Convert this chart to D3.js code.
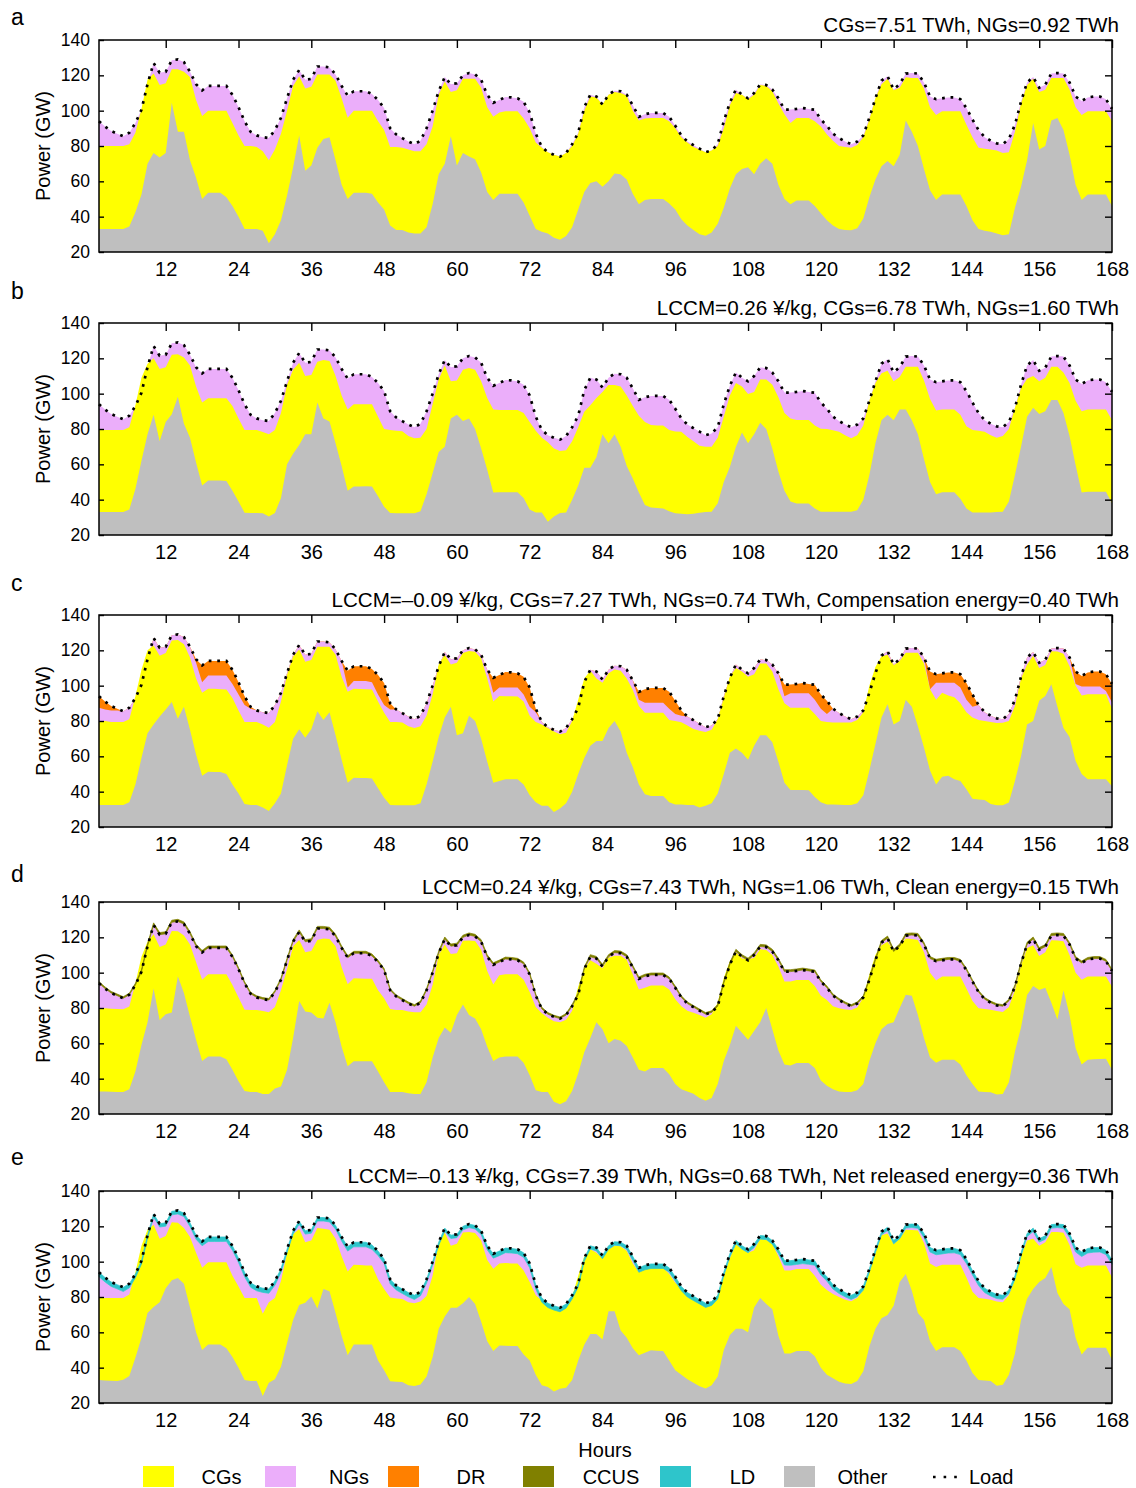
<!DOCTYPE html>
<html>
<head>
<meta charset="utf-8">
<script src="https://cdn.jsdelivr.net/npm/d3@7"></script>
<style>
body { margin: 0; background: #fff; }
svg text { font-family: "Liberation Sans", Arial, sans-serif; fill: #000; }
</style>
</head>
<body>
<div id="chart"></div>
<script>
// weekly dispatch, 5 scenarios

const WIDTH = 1136;
const HEIGHT = 1488;
const PANEL_H = 212;

const hours = d3.range(1, 169);
const xTicks = [12, 24, 36, 48, 60, 72, 84, 96, 108, 120, 132, 144, 156, 168];
const yTicks = [20, 40, 60, 80, 100, 120, 140];

// load (GW), same in every panel
const load = [
  94,91,88.5,87,85.5,87.5,93,100.5,115,127,121.5,122,128.5,129,127.5,122,115,111.5,114,114,114,114,109,102,
  94,88,86,85,84.5,89,96,107,117.5,123,117.5,118,125,125,124.5,120.5,114,108.5,111,111,111,109.5,106,101.5,
  90,86.5,84.5,82.5,81,83,90,100,111,119,115,115.5,120,121.3,120.5,117.5,109,104.5,106,107.7,107.5,107,105,99,
  87,79.5,76.5,75,74,76,81,87.5,102,109,108,103.5,109,111.3,111,109,103,96.5,98,98.7,98.7,98.7,96.5,91.5,
  86,82.5,80.5,78.5,76.5,77.5,81,94,104.5,112,109,107,110,114.8,114.5,112,107,100.6,100.6,101,101.5,101,100.5,95,
  91.5,87,84.5,82.5,81,82.5,86,96,107,117,119.5,112,115,121,121.3,121,116,108,106.5,107,107.5,107.5,106.5,101.5,
  95,89,85,83,81.5,81,84,92,105,116,119,113,114.7,121,121.3,121,116,108,105.5,107.5,108,108,106.5,101
];

// stacked levels (GW): "other" top, then top of CGs on top of it
const otherA = [
  33,33,33,33,33,34.5,42.5,52.5,70,76,73.5,76,104.5,88,88,72,62,50,53.5,53.5,53.5,51,46,40,
  33,33,33,32,25,30,38,52,68,86,66,69,79,84,85,72,58,50,53.5,53.5,53.5,53,48,44,
  35,32.5,32.5,31,30.5,30.5,34,47,64,70,85.5,69,76,74,72.5,65,54,49.5,53,53,53,53,48,40.5,
  33,31.5,30.5,28,27,29,34,44,54,59,60,57,60,64.5,64,61,53,47,49.5,50,50,50,47.5,44,
  38.5,35,32.5,30,29.2,31,36,45,56,64,67,68,64,70,73,70,58,50,47,49.2,49.2,49.2,46,42,
  38,35,33,32.5,32.3,33.5,39,51,61,68.5,71.5,68.5,75,94.5,88,80,67,55,49.5,52.5,52.5,52.5,52.5,46,
  38,33,32,31.5,30.5,29.5,30,45,57,72,93,78,80,94.5,95.8,89,75,58,49.5,52.5,52.5,52.5,52.5,46
];
const cgsTopA = [
  80,80,80,80,80,81,87.5,101,117.5,121,114.5,115.5,123.5,123.5,122,119,106,97,100,100,100,100,93,86,
  80,80,79.5,77,72,78,87,100,114,119.5,112.5,113.5,120.5,120.5,120.5,117,107,96,100,100,100,100,94,89,
  79.5,79.5,79,78,77,77,81,91,109,116.5,110.5,111.5,118,118,118,113,102,96.5,99,99.6,99.6,99.6,95.5,90,
  82,79,76.5,75,74,76,80,87,100,108,107.5,103.5,109,110.5,110,108.5,100,94.5,95.5,95.8,95.8,95.8,94,90,
  85,82,79.5,78,76.5,77.5,80,90,103,110,109,106.5,109,114.5,114,111,104,98,93,95.8,95.8,95.8,94,91,
  86.5,83,80,79.5,79,80.5,85,95,107,115,118,111.5,113,118.9,118.5,118.5,112.5,102,97.5,99.6,99.6,99.6,99.6,92,
  85,79,78.5,78,77.5,76,76.5,88,104,114.5,118,110.5,111.9,118.5,118.5,118.5,112,102,97.5,99.6,99.6,99.6,99.6,94
];

const otherB = [
  33,33,33,33,33,34.5,46,62,77,88,73,84,88.3,98.3,83,75,61,48,50.8,50.8,50.8,50.5,45,39,
  32.6,32.5,32.5,32.3,30.5,32.5,41,60,66,71,77,77,95,86,84.2,72,59,45,47.4,47.5,47.6,47.5,42,36,
  32.5,32.3,32.3,32.3,32.3,33.5,43,55,67,70,86,88,84.5,86,80,69,57,44,44.2,44.2,44.2,44.2,41,34.5,
  32.8,32.8,27.5,30.5,32.5,32.8,40,48,58,58,64,77,72,77,70,59,52,44,37,35.5,35.3,35,33.5,32.3,
  32,31.7,32,32.6,33,33.2,38,50,58.5,70,78,72,77,83.5,80,69,56,45,39,37.9,37.9,37.9,35,33.2,
  33.2,33.2,33.2,33.2,33.2,34,40,54,72,85,88,85,91,91,85,77,63,50,43,44.2,44.2,44.2,40.5,35,
  32.8,32.8,32.8,32.8,33,33.2,39,54,70,87,92,88.5,90,96.4,96.4,89,76,59.6,44,44.5,44.5,44.5,44.5,38
];
const cgsTopB = [
  79.5,79.5,79.5,79.5,79.5,81,93.5,109,117,120,114,115,122,122.3,120.5,116,104,95,97.4,97.4,97.4,97.4,93,86,
  79.4,79.4,79.4,78.3,77,79.5,89,105,113.5,117.5,110,110.5,118,119,118.5,110,99,91,94,94,94,94,87,80,
  79.4,79,78.7,76,74.7,75,80,94,108,116,107,107.5,113.5,114.5,113.5,107,97.5,91,90.8,90.8,90.8,90.8,89,84,
  79,75,72.5,69,67.5,68,73,81,89.8,93.5,97.5,101,104.9,104.9,104,99,93,87.5,84,82.2,82,82,79.5,78.6,
  78.5,75.5,73,70.5,70,70,75,87,99,106,104,99.8,101,108,108,105,98,89,86,85.1,85.1,85.1,82,80.2,
  80,79.3,78.5,76.5,74.7,76.5,82,96,106,111.5,113,107,109.5,115.3,115.3,115.3,107.5,97,90.5,91.1,91.1,91.1,88,81.5,
  79.4,79,78.5,76.5,75,76,80,92,103,108.5,110,107,109,115.3,115.3,112,106,96,90,91.1,91.1,91.1,91.1,85
];

const otherC = [
  32.5,32.5,32.5,32.5,32.5,34,44,59,73,78,82.5,86.5,90.8,81.3,88,75,61,49,51.3,51.2,51.1,50,44,39,
  33,32.5,32.5,31,29.1,33.5,39,55,70,75.3,70.5,75.3,85.5,80.5,85,72,58,45,47.9,47.8,47.7,47.5,42,36.5,
  32.5,32.3,32.3,32.3,32.3,33.5,44,57,71,82,88,72,73,83,80,70,57,45,46,47,47,47,44,38,
  34,32,32,28.5,30.5,33.5,40,50,59,66,68.7,68.7,76,80,74,62,54,44,38.5,37.5,37.5,37.5,34,32.8,
  32.8,32.5,32.4,31,32,33.5,39,50,62,64.5,62,58,66,72,72,68,57,45,40.9,40.9,40.9,40.8,37,34,
  32.8,32.7,32.6,32.5,32.5,33.5,38,52,67,82,89.5,78,80,92,88,77,65,52,44,48.5,49,47,46,41.3,
  36,35.6,35.3,33,32.3,32.3,33.8,46,60,78,80,91.5,94.2,100.8,88,76,71,57.4,50,47,47,47,47,43
];
const cgsTopC = [
  80,80,79.5,79.5,79.4,81,94,109,120,122.8,117,118.5,125.5,125.8,123.5,116,104,96,98.3,98.2,98,97.9,93,86,
  79.4,79.4,79.4,78,76.2,79.5,91,106,116.5,120.5,113.5,114.5,122,122,122,117.5,105,96.5,98.3,98.1,98,97.9,91,84.7,
  79.5,79.4,79.1,77,76,77,83,95,112,117.5,112,113,118.5,119.6,119.2,115.5,104,91,94.2,94,94,93.8,91,83,
  79.5,78,76,74,72.5,73.4,80,92,104,108.5,104,101.7,107,109.2,108.5,104,97.5,88.5,84.7,84.7,84.7,84.7,80.5,80,
  79.3,77.5,75.5,74.5,73.8,75,81,93,105,110,108,105,106.5,112.5,112.6,108,98,90,87.5,87.5,87.5,87.5,84,80,
  79.4,79.2,79.1,79.1,79.1,80.5,85,100,110.5,116.5,117.5,111.5,114,118.7,118.7,118.7,112.5,98,92,96,94.5,93.5,90,85,
  82,80.5,80,79.5,78.8,79,80,88.5,104,112,117,110,111.7,119.5,119.3,118,111,100,94.5,95.1,95.1,95.1,95.1,87
];
// top of NGs in panel c; DR fills the gap up to the load
const ngsTopC = [
  87.5,86.5,86,86,85.5,87.5,93,100.5,115,127,121.5,122,128.5,129,127.5,122,113,102,105.8,105.8,105.8,105.8,101,95,
  89,87,86,85,84.5,89,96,107,117.5,123,117.5,118,125,125,124.5,120.5,114,99,102.6,102.6,102.6,102,95,89,
  86.5,86.5,84.5,82.5,81,83,90,100,111,119,115,115.5,120,121.3,120.5,117.5,109,96,98.9,98.9,98.9,98.9,95,88,
  85,79.5,76.5,75,74,76,81,87.5,102,109,108,103.5,109,111.3,111,109,103,92,90.4,90.4,90.4,90.4,87,84,
  83,82.5,80.5,78.5,76.5,77.5,81,94,104.5,112,109,107,110,114.8,114.5,112,107,94,95.7,95.7,95.7,95.7,92,87,
  84,87,84.5,82.5,81,82.5,86,96,107,117,119.5,112,115,121,121.3,121,116,98,101.7,101.7,101.7,101.7,99,92,
  88,89,85,83,81.5,81,84,92,105,116,119,113,114.7,121,121.3,121,116,101,99.5,99.5,99.5,99.5,97,90.5
];

const otherD = [
  32.8,32.7,32.6,32.5,32.4,34,44,59,72,91,73,76.5,77.5,98,88.5,75,62,50,52.6,52.6,52.6,51,45,38.5,
  33,32.4,32.4,31.3,31.3,34.5,35.6,45,63,84,78,77.5,74.5,74,83,72,58,47,49.8,49.8,49.8,49.8,44,38,
  32.5,32.4,32.4,31.8,31.3,31.3,38,52,63,69,66,76,82,76,74,68,58,50,52,52.6,52.6,52.6,49,42,
  33.5,32.5,32.4,27,25.5,27.2,33,43,55,63,72,68,60,62.5,61.5,58.5,52,45,44,46,46,46,42.5,37,
  34,32.8,31.5,29,27.5,29,37,50,59,70,66,62,67,72,80,68,56,48,47.5,48.8,48.8,48.8,46,39,
  36,34,32.7,32.5,32.4,33.5,37,50,60,68,71,72,80,87.5,87,76,63,52,49,50.7,50.7,50.7,48,42,
  37,32.8,32.5,32.3,31,31.3,38,55.4,69,87.4,92.5,90.2,91.5,83,73.5,90,76,57.3,48,50.7,51,51.2,51.3,45
];
const cgsTopD = [
  79.9,79.8,79.6,79.4,79.3,80.8,94,109,117.5,121.7,114.5,116,123.6,123.4,121,116,106,96,99.1,99.1,99.1,99.1,93,86,
  79,78.9,78.9,78.3,77.6,80.5,90,102,115,118.5,111.5,112.3,118.5,119.3,119.1,115,103,93.5,96.8,96.7,96.6,96.5,90,85.5,
  79.5,78.9,78.9,78,77.6,77.6,82,93,110,116,110.5,111,118,118.2,117.9,113,101,93.3,98.5,99.1,99.1,99.1,96,89,
  80.5,77,74.5,72.5,72,73.3,78.5,92,102,107,105,102.5,108.5,109.6,109.6,107.2,99,90.5,91.5,92.7,92.7,92.7,90.5,85,
  81,78.5,77.3,76,74.5,76.5,83,97,106.5,111.5,108,107.5,108.5,113.2,112.8,110,103.5,95,95,95.9,95.9,95.9,92.5,87,
  84.5,81,79.8,79.2,78.9,80.3,86,99,110,115.5,117.5,112.5,115.5,119.4,119,118.5,111.5,100,95.5,97.8,97.8,97.8,97.8,91,
  84,79.9,79.5,79,78.3,77.8,80.5,90,104,114,115.5,109.5,111.5,118.3,118.2,117.8,110,100,96,97.8,97.8,97.8,97.8,92
];
// CCUS consumption (GW), stacked above the load
const ccusD = [
  0.9,0.9,0.9,0.9,0.9,0.9,1,1.1,1.2,1.2,1.2,1.2,1.2,1.2,1.2,1.2,1.1,1.1,1.1,1.1,1.1,1.1,1,0.9,
  0.9,0.9,0.9,0.9,0.9,0.9,1,1.1,1.2,1.2,1.2,1.2,1.2,1.2,1.2,1.2,1.1,1.1,1.1,1.1,1.1,1.1,1,0.9,
  0.9,0.9,0.9,0.9,0.9,0.9,1,1.1,1.2,1.2,1.2,1.2,1.2,1.2,1.2,1.2,1.1,1.1,1.1,1.1,1.1,1.1,1,0.9,
  0.9,0.9,0.9,0.9,0.9,0.9,1,1.1,1.2,1.2,1.2,1.2,1.2,1.2,1.2,1.2,1.1,1.1,1.1,1.1,1.1,1.1,1,0.9,
  0.9,0.9,0.9,0.9,0.9,0.9,1,1.1,1.2,1.2,1.2,1.2,1.2,1.2,1.2,1.2,1.1,1.1,1.1,1.1,1.1,1.1,1,0.9,
  0.9,0.9,0.9,0.9,0.9,0.9,1,1.1,1.2,1.2,1.2,1.2,1.2,1.2,1.2,1.2,1.1,1.1,1.1,1.1,1.1,1.1,1,0.9,
  0.9,0.9,0.9,0.9,0.9,0.9,1,1.1,1.2,1.2,1.2,1.2,1.2,1.2,1.2,1.2,1.1,1.1,1.1,1.1,1.1,1.1,1,0.9
];

const otherE = [
  33,32.8,32.6,32.4,33.2,35.3,45.6,57,71,74.4,77,85,89.5,90.8,87.5,74,60,50,53.1,53.1,53.1,51,46,40,
  33,32.4,32.4,24,31.5,33.5,40.5,54,67,75.5,76.7,80.3,73.5,84.5,83.3,71,58,47,53.1,53.1,53.1,53.1,44,38.5,
  32.3,32,31.9,30,29.6,30.5,35,46,62,69,73.9,73.9,76.5,80,76,66,55,49.5,52.5,52.4,52.3,52.2,47.5,44,
  36,30,29,26.5,28,28.7,33,44,53,59,59,56,72,72,61,57,51,47,48.5,49.9,49.6,49.4,44,38.5,
  36,33.5,31.5,29.5,28.2,30,35,50,58.5,62,62,60,74,79.5,76,73,58,48,48,49.4,49.4,49.4,46.5,40,
  36,34,32,31,30.8,32.5,38,52,62,68,69.8,75,88.5,93,83.5,71,67,55,49.5,51.6,51.6,51.6,49.5,44,
  37,33,32.7,32.4,29.8,30.4,36,48,67,79,84.5,88.5,90.8,97,82.3,76,73,57,47.5,51.3,51.3,51.3,51.3,44.5
];
const cgsTopE = [
  79.5,79.5,79.5,79.5,79.5,81.4,94,109,118,120.9,113,114.5,122.3,122,119,114,105,96.5,99.7,99.7,99.7,99.7,92,86,
  79.5,79.5,79.5,70.5,77,79.5,89,105,115.5,118.5,111,112,119,118.6,118.1,113,103,94.5,98.3,98.1,97.9,97.8,90,84.5,
  79.7,79.2,78.9,77,76.5,77.5,80.5,92,111,116.5,109,110.2,116.5,116.8,116.2,112,101,96,99,99.2,99,98.9,95,88.5,
  81,78,75,73.5,73,74.8,80,92,103,107,105,102,107,109,108.7,106,99,94,96,97,96.8,96.5,93,88,
  85,80,78.5,76.5,74.5,76.5,81,92,102,110,107,105,106.5,112.8,112.4,110,103,95,95,95.9,95.9,95.9,92,87,
  84,81.7,80,78.5,77.6,79.5,84,94,105,115,116,110,113,118.1,117.9,117.7,110.5,99,97,98.3,98.3,98.3,98.3,91,
  83,79.5,79,78.5,77.5,77,81,90,103,112,113,109,111,116.8,116.8,116.4,109.5,98.5,96.5,97.8,97.8,97.8,97.8,91
];
// LD discharge (GW), the band just under the load
const ldE = [
  2.5,2.5,2.5,2.4,2.4,2.3,2.1,1.9,1.8,1.8,1.9,1.9,2,2,2,2.1,2.3,2.5,2.6,2.6,2.6,2.5,2.5,2.5,
  2.5,2.5,2.5,2.4,2.4,2.3,2.1,1.9,1.8,1.8,1.9,1.9,2,2,2,2.1,2.3,2.5,2.6,2.6,2.6,2.5,2.5,2.5,
  2.5,2.5,2.5,2.4,2.4,2.3,2.1,1.9,1.8,1.8,1.9,1.9,2,2,2,2.1,2.3,2.5,2.6,2.6,2.6,2.5,2.5,2.5,
  2.5,2.5,2.5,2.4,2.4,2.3,2.1,1.9,1.8,1.8,1.9,1.9,2,2,2,2.1,2.3,2.5,2.6,2.6,2.6,2.5,2.5,2.5,
  2.5,2.5,2.5,2.4,2.4,2.3,2.1,1.9,1.8,1.8,1.9,1.9,2,2,2,2.1,2.3,2.5,2.6,2.6,2.6,2.5,2.5,2.5,
  2.5,2.5,2.5,2.4,2.4,2.3,2.1,1.9,1.8,1.8,1.9,1.9,2,2,2,2.1,2.3,2.5,2.6,2.6,2.6,2.5,2.5,2.5,
  2.5,2.5,2.5,2.4,2.4,2.3,2.1,1.9,1.8,1.8,1.9,1.9,2,2,2,2.1,2.3,2.5,2.6,2.6,2.6,2.5,2.5,2.5
];

const COLORS = {
  cgs: "#ffff00", ngs: "#ebaefa", dr: "#ff8000",
  ccus: "#808000", ld: "#2ec5cb", other: "#bfbfbf"
};

// stacking helpers for the thin bands
const ccusTopD = load.map((v, i) => v + ccusD[i]);
const ngsTopE = load.map((v, i) => v - ldE[i]);

const panels = [
  { letter: "a", top: 40, letterY: 25,
    note: "CGs=7.51 TWh, NGs=0.92 TWh",
    layers: [[load, COLORS.ngs], [cgsTopA, COLORS.cgs], [otherA, COLORS.other]] },
  { letter: "b", top: 323, letterY: 299,
    note: "LCCM=0.26 ¥/kg, CGs=6.78 TWh, NGs=1.60 TWh",
    layers: [[load, COLORS.ngs], [cgsTopB, COLORS.cgs], [otherB, COLORS.other]] },
  { letter: "c", top: 615, letterY: 591,
    note: "LCCM=–0.09 ¥/kg, CGs=7.27 TWh, NGs=0.74 TWh, Compensation energy=0.40 TWh",
    layers: [[load, COLORS.dr], [ngsTopC, COLORS.ngs], [cgsTopC, COLORS.cgs], [otherC, COLORS.other]] },
  { letter: "d", top: 902, letterY: 882,
    note: "LCCM=0.24 ¥/kg, CGs=7.43 TWh, NGs=1.06 TWh, Clean energy=0.15 TWh",
    layers: [[load, COLORS.ngs], [cgsTopD, COLORS.cgs], [otherD, COLORS.other]],
    band: { lo: load, hi: ccusTopD, color: COLORS.ccus } },
  { letter: "e", top: 1191, letterY: 1165,
    note: "LCCM=–0.13 ¥/kg, CGs=7.39 TWh, NGs=0.68 TWh, Net released energy=0.36 TWh",
    layers: [[ngsTopE, COLORS.ngs], [cgsTopE, COLORS.cgs], [otherE, COLORS.other]],
    band: { lo: ngsTopE, hi: load, color: COLORS.ld } }
];

const svg = d3.select("#chart").append("svg")
  .attr("width", WIDTH)
  .attr("height", HEIGHT);

const x = d3.scaleLinear().domain([1, 168]).range([99, 1112]);

panels.forEach(p => {
  const y = d3.scaleLinear().domain([20, 140]).range([p.top + PANEL_H, p.top]);
  const g = svg.append("g");

  // each layer is filled from the axis floor up to its stacked level,
  // drawn top layer first so lower layers paint over it
  const area = d3.area()
    .x((d, i) => x(hours[i]))
    .y0(y(20))
    .y1(d => y(d));
  p.layers.forEach(([vals, col]) => {
    g.append("path").datum(vals).attr("d", area).attr("fill", col);
  });

  if (p.band) {
    const band = d3.area()
      .x((d, i) => x(hours[i]))
      .y0((d, i) => y(p.band.lo[i]))
      .y1((d, i) => y(p.band.hi[i]));
    g.append("path").datum(hours).attr("d", band)
      .attr("fill", p.band.color)
      .attr("stroke", p.band.color).attr("stroke-width", 0.7);
  }

  // load, dotted
  g.append("path").datum(load)
    .attr("d", d3.line().x((d, i) => x(hours[i])).y(d => y(d)))
    .attr("fill", "none")
    .attr("stroke", "#000")
    .attr("stroke-width", 2.7)
    .attr("stroke-dasharray", "2.7,5.8");

  // ticks: top and right point inwards, left ticks with labels
  g.append("g").attr("transform", `translate(0,${p.top})`)
    .call(d3.axisTop(x).tickValues(xTicks).tickSizeInner(-8).tickSizeOuter(0).tickFormat(""))
    .call(a => a.select(".domain").remove());
  g.append("g").attr("transform", `translate(1112,0)`)
    .call(d3.axisRight(y).tickValues(yTicks).tickSizeInner(-7).tickSizeOuter(0).tickFormat(""))
    .call(a => a.select(".domain").remove());
  g.append("g").attr("transform", `translate(99,0)`)
    .call(d3.axisLeft(y).tickValues(yTicks).tickSizeInner(-5).tickSizeOuter(0).tickPadding(9))
    .call(a => a.select(".domain").remove())
    .call(a => a.selectAll("text").attr("font-size", 17.5).attr("font-family", "Liberation Sans, Arial, sans-serif"));
  g.append("g").attr("transform", `translate(0,${p.top + PANEL_H})`)
    .call(d3.axisBottom(x).tickValues(xTicks).tickSize(0).tickPadding(10))
    .call(a => a.select(".domain").remove())
    .call(a => a.selectAll("text").attr("font-size", 20).attr("font-family", "Liberation Sans, Arial, sans-serif"));
  g.selectAll(".tick line").attr("stroke", "#000").attr("stroke-width", 1.4);

  g.append("rect")
    .attr("x", 99).attr("y", p.top)
    .attr("width", 1112 - 99).attr("height", PANEL_H)
    .attr("fill", "none").attr("stroke", "#000").attr("stroke-width", 1.5);

  g.append("text")
    .attr("x", 11).attr("y", p.letterY)
    .attr("font-size", 23)
    .text(p.letter);

  g.append("text")
    .attr("x", 1119).attr("y", p.top - 8)
    .attr("text-anchor", "end")
    .attr("font-size", 20.6)
    .text(p.note);

  g.append("text")
    .attr("transform", `translate(50,${p.top + PANEL_H / 2}) rotate(-90)`)
    .attr("text-anchor", "middle")
    .attr("font-size", 20)
    .text("Power (GW)");
});

svg.append("text")
  .attr("x", 605).attr("y", 1457)
  .attr("text-anchor", "middle")
  .attr("font-size", 20)
  .text("Hours");

// legend
const legendNames = ["CGs", "NGs", "DR", "CCUS", "LD", "Other"];
const legendColors = [COLORS.cgs, COLORS.ngs, COLORS.dr, COLORS.ccus, COLORS.ld, COLORS.other];
const legendX = [143, 265, 388, 523, 660, 784];
const legendTextX = [221.5, 349, 471, 611, 742.5, 862.5];

const legend = svg.append("g");
legendNames.forEach((name, i) => {
  legend.append("rect")
    .attr("x", legendX[i]).attr("y", 1466)
    .attr("width", 31).attr("height", 21)
    .attr("fill", legendColors[i]);
  legend.append("text")
    .attr("x", legendTextX[i]).attr("y", 1484)
    .attr("text-anchor", "middle")
    .attr("font-size", 20)
    .text(name);
});
legend.append("line")
  .attr("x1", 933).attr("x2", 963)
  .attr("y1", 1477).attr("y2", 1477)
  .attr("stroke", "#000").attr("stroke-width", 2.6)
  .attr("stroke-dasharray", "2.6,8");
legend.append("text")
  .attr("x", 969).attr("y", 1484)
  .attr("font-size", 20)
  .text("Load");
</script>
</body>
</html>
